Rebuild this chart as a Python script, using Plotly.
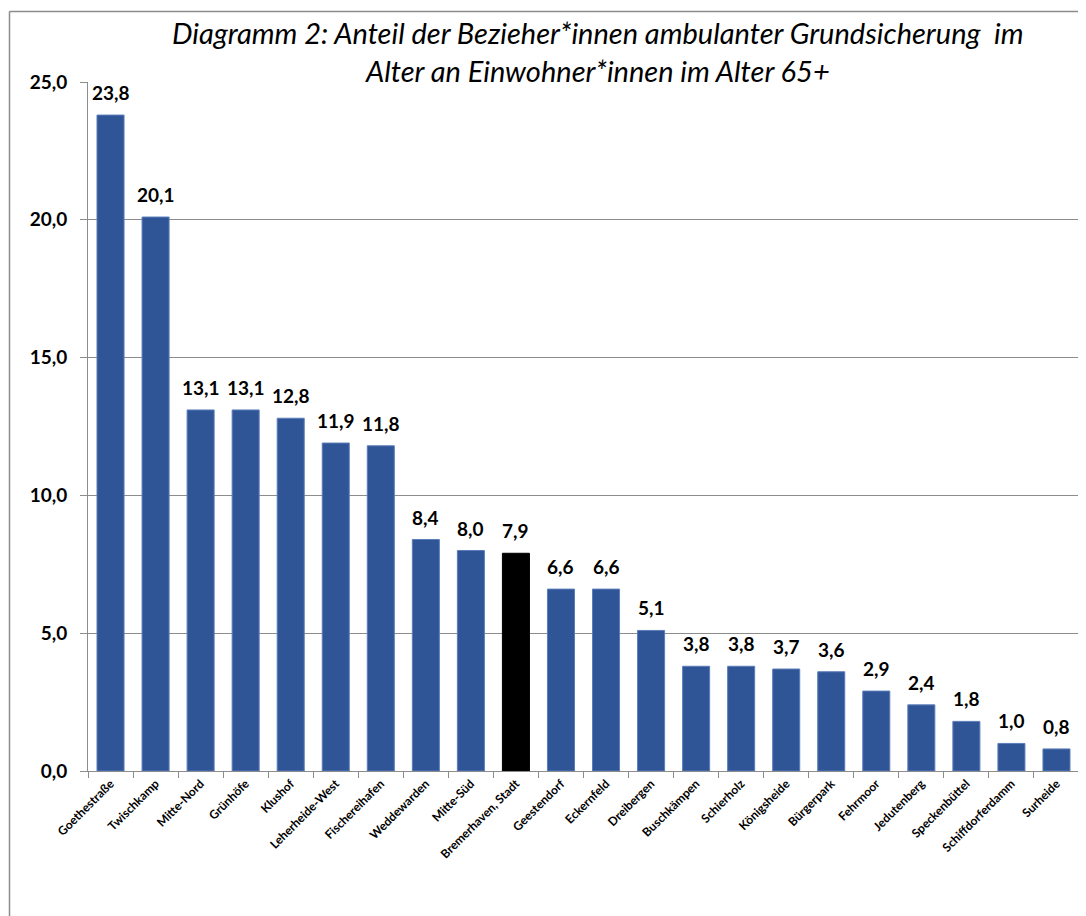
import plotly.graph_objects as go

categories = ["Goethestraße", "Twischkamp", "Mitte-Nord", "Grünhöfe", "Klushof",
              "Leherheide-West", "Fischereihafen", "Weddewarden", "Mitte-Süd",
              "Bremerhaven, Stadt", "Geestendorf", "Eckernfeld", "Dreibergen",
              "Buschkämpen", "Schierholz", "Königsheide", "Bürgerpark", "Fehrmoor",
              "Jedutenberg", "Speckenbüttel", "Schiffdorferdamm", "Surheide"]
values = [23.8, 20.1, 13.1, 13.1, 12.8, 11.9, 11.8, 8.4, 8.0, 7.9, 6.6, 6.6, 5.1,
          3.8, 3.8, 3.7, 3.6, 2.9, 2.4, 1.8, 1.0, 0.8]
highlight = "Bremerhaven, Stadt"
y_ticks = [0, 5, 10, 15, 20, 25]
title_text = ("Diagramm 2: Anteil der Bezieher*innen ambulanter Grundsicherung  im<br>"
              "Alter an Einwohner*innen im Alter 65+")

BLUE = "#2F5597"
colors = ["#000000" if c == highlight else BLUE for c in categories]
edges = ["#000000" if c == highlight else "#5B7DBA" for c in categories]

W, H = 1086, 916
OFF = 8  # page body margin offset
# target plot area on screen: x 88..1079, y 82..771
ML = 88 - OFF
MT = 82 - OFF
PW = 1079 - 88
PH = 771 - 82
MR = W - ML - PW
MB = H - MT - PH
FONT = "Lato"

fig = go.Figure(go.Bar(
    x=categories, y=values,
    marker=dict(color=colors, line=dict(color=edges, width=1)),
    hoverinfo="x+y",
))

for c, v in zip(categories, values):
    fig.add_annotation(
        x=c, y=v, text=f"{v:.1f}".replace(".", ","),
        showarrow=False, yanchor="bottom", yshift=9,
        font=dict(family=FONT, size=19, color="#000000", weight="bold"),
    )

# title as annotation (multi-line positioning)
fig.add_annotation(
    xref="paper", yref="paper",
    x=(598 - OFF - ML) / PW, y=1 + (MT - (52 - OFF)) / PH,
    xanchor="center", yanchor="middle", showarrow=False,
    text=title_text, align="center",
    font=dict(family=FONT, size=29, color="#000000", style="italic"),
)

# outer chart frame (left and top edges)
x_left = (1.5 - ML) / PW
y_top = 1 + (MT - 3.5) / PH
y_bot = -(MB) / PH
fig.add_shape(type="line", xref="paper", yref="paper", x0=x_left, x1=x_left,
              y0=y_bot, y1=y_top, line=dict(color="#8C8C8C", width=1.5))
fig.add_shape(type="line", xref="paper", yref="paper", x0=x_left, x1=(W - ML) / PW,
              y0=y_top, y1=y_top, line=dict(color="#8C8C8C", width=1.5))

fig.update_layout(
    width=W, height=H,
    margin=dict(l=ML, r=MR, t=MT, b=MB),
    paper_bgcolor="white", plot_bgcolor="white",
    separators=",.",
    showlegend=False,
    bargap=0.4,
    xaxis=dict(
        showline=True, linecolor="#8C8C8C", linewidth=1,
        ticks="outside", tickson="boundaries", ticklen=6, tickcolor="#8C8C8C",
        tickangle=-45,
        tickfont=dict(family=FONT, size=12, color="#000000", weight="bold"),
        showgrid=False,
    ),
    yaxis=dict(
        range=[0, 25], tickvals=y_ticks, tickformat=".1f",
        showline=True, linecolor="#8C8C8C", linewidth=1,
        ticks="outside", ticklen=7, tickcolor="#8C8C8C",
        ticklabelstandoff=9,
        showgrid=True, gridcolor="#8C8C8C", gridwidth=1,
        tickfont=dict(family=FONT, size=19, color="#000000", weight="bold"),
        zeroline=False,
    ),
)

fig.write_html("out.html")
